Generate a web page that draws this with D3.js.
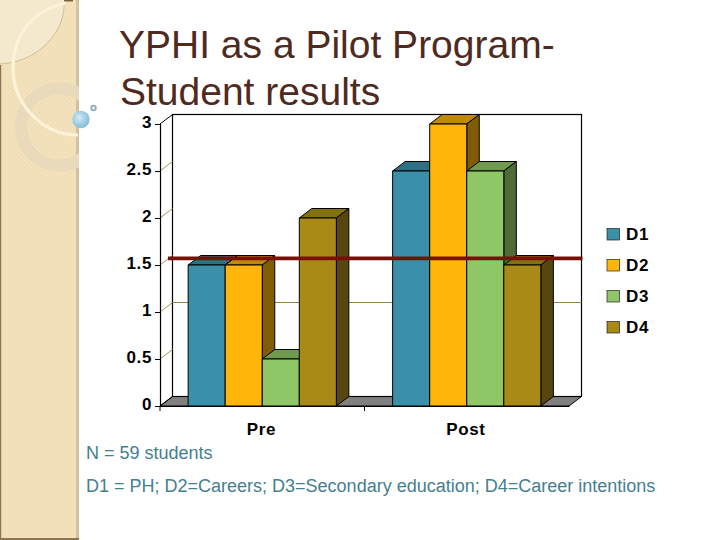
<!DOCTYPE html>
<html lang="en">
  <head>
    <meta charset="UTF-8" />
    <title>YPHI as a Pilot Program</title>
    <style>
      html, body { margin: 0; padding: 0; background: #fff; }
      svg { display: block; }
      text { font-family: "Liberation Sans", Arial, sans-serif; }
      .title { font-size: 39px; fill: #4f2a1e; }
      .note { font-size: 18px; fill: #44808f; }
      .lab { font-size: 17px; font-weight: bold; fill: #000; letter-spacing: 0.6px; }
    </style>
  </head>
  <body>
    <svg width="720" height="540"></svg>
    <script src="https://cdnjs.cloudflare.com/ajax/libs/d3/7.8.5/d3.min.js"></script>
    <script>
      // values
      const categories = ["Pre", "Post"];
      const seriesNames = ["D1", "D2", "D3", "D4"];
      const D1 = [1.5, 2.5];
      const D2 = [1.5, 3];
      const D3 = [0.5, 2.5];
      const D4 = [2, 1.5];
      const seriesValues = [D1, D2, D3, D4];
      const yTicks = [0, 0.5, 1, 1.5, 2, 2.5, 3];
      const visibleGridlines = [1];
      const benchmark = 1.57;

      const svg = d3.select("svg");
      const defs = svg.append("defs");

      // left hand decoration of the slide
      const bubble = defs.append("radialGradient").attr("id", "bubble").attr("cx", "40%").attr("cy", "40%");
      bubble.append("stop").attr("offset", "0%").attr("stop-color", "#d4ecf5");
      bubble.append("stop").attr("offset", "100%").attr("stop-color", "#8fc4de");
      defs.append("clipPath").attr("id", "panel").append("rect").attr("width", 79).attr("height", 540);
      const weave = defs.append("pattern").attr("id", "weave")
        .attr("width", 4).attr("height", 4).attr("patternUnits", "userSpaceOnUse");
      weave.append("rect").attr("width", 4).attr("height", 4).attr("fill", "#f0deb6");
      weave.append("rect").attr("width", 2).attr("height", 2).attr("fill", "#f3e2bd");
      weave.append("rect").attr("x", 2).attr("y", 2).attr("width", 2).attr("height", 2).attr("fill", "#f3e2bd");

      const deco = svg.append("g");
      deco.append("rect").attr("width", 76).attr("height", 540).attr("fill", "url(#weave)");
      deco.append("rect").attr("x", 76).attr("width", 3).attr("height", 540).attr("fill", "#d2c29f");
      deco.append("rect").attr("x", 0).attr("y", 65).attr("width", 1.2).attr("height", 475).attr("fill", "#8a7550");
      deco.append("rect").attr("x", 0).attr("y", 538).attr("width", 79).attr("height", 2).attr("fill", "#8a7550");
      deco.append("rect").attr("x", 64).attr("y", 0).attr("width", 9).attr("height", 1.5).attr("fill", "#7a6238");

      const clipped = deco.append("g").attr("clip-path", "url(#panel)");
      clipped.append("path")
        .attr("d", "M0,64 L0,0 L64,0 C66,30 40,62 0,64 Z")
        .attr("fill", "#f4e8cd");
      clipped.append("path")
        .attr("d", "M0,64 C40,62 66,30 64,2")
        .attr("fill", "none").attr("stroke", "#c8b68e").attr("stroke-width", 0.8);
      clipped.append("circle")
        .attr("cx", 59.5).attr("cy", 127).attr("r", 38.5)
        .attr("fill", "none").attr("stroke", "#e8dabb").attr("stroke-width", 12);
      clipped.append("path")
        .attr("d", "M66,3 C32,10 13,36 13,68 C13,104 42,135 78,135")
        .attr("fill", "none").attr("stroke", "#fcf3d8").attr("stroke-width", 3.2);
      deco.append("circle").attr("cx", 81).attr("cy", 119.5).attr("r", 8.7).attr("fill", "url(#bubble)");
      deco.append("circle").attr("cx", 93.5).attr("cy", 108).attr("r", 2.4)
        .attr("fill", "#dfeaf0").attr("stroke", "#8fb0bd").attr("stroke-width", 1.6);

      // title and notes
      svg.append("text").attr("class", "title").attr("x", 119).attr("y", 58).text("YPHI as a Pilot Program-");
      svg.append("text").attr("class", "title").attr("x", 120).attr("y", 105).text("Student results");
      svg.append("text").attr("class", "note").attr("x", 86).attr("y", 459).text("N = 59 students");
      svg.append("text").attr("class", "note").attr("x", 86).attr("y", 492)
        .text("D1 = PH; D2=Careers; D3=Secondary education; D4=Career intentions");

      // 3d chart
      const depthX = 12.5;
      const depthY = 9.5;
      const y = d3.scaleLinear().domain([0, 3]).range([406, 124]);
      const x0 = d3.scaleBand().domain(categories).range([160, 569]);
      const x1 = d3.scaleBand().domain(seriesNames).range([0, x0.bandwidth()]).paddingOuter(0.76).paddingInner(0);
      const front = d3.scaleOrdinal().domain(seriesNames).range(["#3b90a9", "#ffb50a", "#8fc666", "#a98a16"]);
      const topFace = d3.scaleOrdinal().domain(seriesNames).range(["#2f7085", "#c08a08", "#6f9a50", "#84700f"]);
      const sideFace = d3.scaleOrdinal().domain(seriesNames).range(["#24586a", "#7f5c05", "#4f6b38", "#574610"]);

      const chart = svg.append("g");
      const xLeft = x0.range()[0];
      const xRight = x0.range()[1];
      const yBase = y(0);
      const yTop = y(3);

      // floor
      chart.append("polygon")
        .attr("points", [[xLeft, yBase], [xLeft + depthX, yBase - depthY], [xRight + depthX, yBase - depthY], [xRight, yBase]].join(" "))
        .attr("fill", "#808080").attr("stroke", "#000");
      // back wall
      chart.append("rect")
        .attr("x", xLeft + depthX).attr("y", yTop - depthY)
        .attr("width", xRight - xLeft).attr("height", yBase - yTop)
        .attr("fill", "none").attr("stroke", "#000").attr("stroke-width", 1.2);

      // gridlines: slanted on the side wall, flat on the back wall
      chart.selectAll(".slant").data(yTicks).enter().append("line")
        .attr("class", "slant")
        .attr("x1", xLeft).attr("x2", xLeft + depthX)
        .attr("y1", (d) => y(d)).attr("y2", (d) => y(d) - depthY)
        .attr("stroke", (d) => (d === 0 || d === 3 ? "#000" : "#a39a5c")).attr("stroke-width", 1);
      chart.selectAll(".grid").data(visibleGridlines).enter().append("line")
        .attr("class", "grid")
        .attr("x1", xLeft + depthX).attr("x2", xRight + depthX)
        .attr("y1", (d) => y(d) - depthY).attr("y2", (d) => y(d) - depthY)
        .attr("stroke", "#8f8748").attr("stroke-width", 1.2);

      // bars, left to right so each one covers the side of the one before
      categories.forEach((cat, c) => {
        seriesNames.forEach((name, s) => {
          const v = seriesValues[s][c];
          const bx = x0(cat) + x1(name);
          const w = x1.bandwidth();
          const by = y(v);
          const g = chart.append("g").attr("stroke", "#000").attr("stroke-width", 1).attr("stroke-linejoin", "round");
          g.append("polygon")
            .attr("points", [[bx, by], [bx + depthX, by - depthY], [bx + w + depthX, by - depthY], [bx + w, by]].join(" "))
            .attr("fill", topFace(name));
          g.append("polygon")
            .attr("points", [[bx + w, by], [bx + w + depthX, by - depthY], [bx + w + depthX, yBase - depthY], [bx + w, yBase]].join(" "))
            .attr("fill", sideFace(name));
          g.append("rect")
            .attr("x", bx).attr("y", by).attr("width", w).attr("height", yBase - by)
            .attr("fill", front(name));
        });
      });

      // axes
      const yAxis = chart.append("g")
        .attr("transform", `translate(${xLeft},0)`)
        .call(d3.axisLeft(y).tickValues(yTicks).tickFormat((d) => d).tickSize(5).tickPadding(3));
      yAxis.selectAll("path").attr("stroke", "#000").attr("stroke-width", 1.2);
      yAxis.selectAll("text").attr("class", "lab").attr("dy", "0.2em");

      const xAxis = chart.append("g")
        .attr("transform", `translate(0,${yBase})`)
        .call(d3.axisBottom(x0).tickSize(0).tickPadding(17));
      xAxis.selectAll("text").attr("class", "lab").attr("dx", "-0.05em");
      xAxis.select("path").attr("stroke", "#000").attr("stroke-width", 1.2);
      chart.selectAll(".xtick").data(categories).enter().append("line")
        .attr("class", "xtick")
        .attr("x1", (d) => x0(d)).attr("x2", (d) => x0(d))
        .attr("y1", yBase).attr("y2", yBase + 5)
        .attr("stroke", "#000");

      // drawn-on benchmark line
      chart.append("line")
        .attr("x1", xLeft + 8).attr("x2", xRight + depthX + 1)
        .attr("y1", y(benchmark)).attr("y2", y(benchmark))
        .attr("stroke", "#7a1005").attr("stroke-width", 3.6);

      // legend
      const legendY = d3.scalePoint().domain(seriesNames).range([234, 327]);
      const legend = chart.selectAll(".key").data(seriesNames).enter().append("g")
        .attr("class", "key")
        .attr("transform", (d) => `translate(607,${legendY(d)})`);
      legend.append("rect")
        .attr("y", -5.5).attr("width", 12.5).attr("height", 11.5)
        .attr("fill", (d) => front(d)).attr("stroke", "#222").attr("stroke-width", 0.7);
      legend.append("text")
        .attr("class", "lab").attr("x", 19).attr("y", 6)
        .text((d) => d);
    </script>
  </body>
</html>
